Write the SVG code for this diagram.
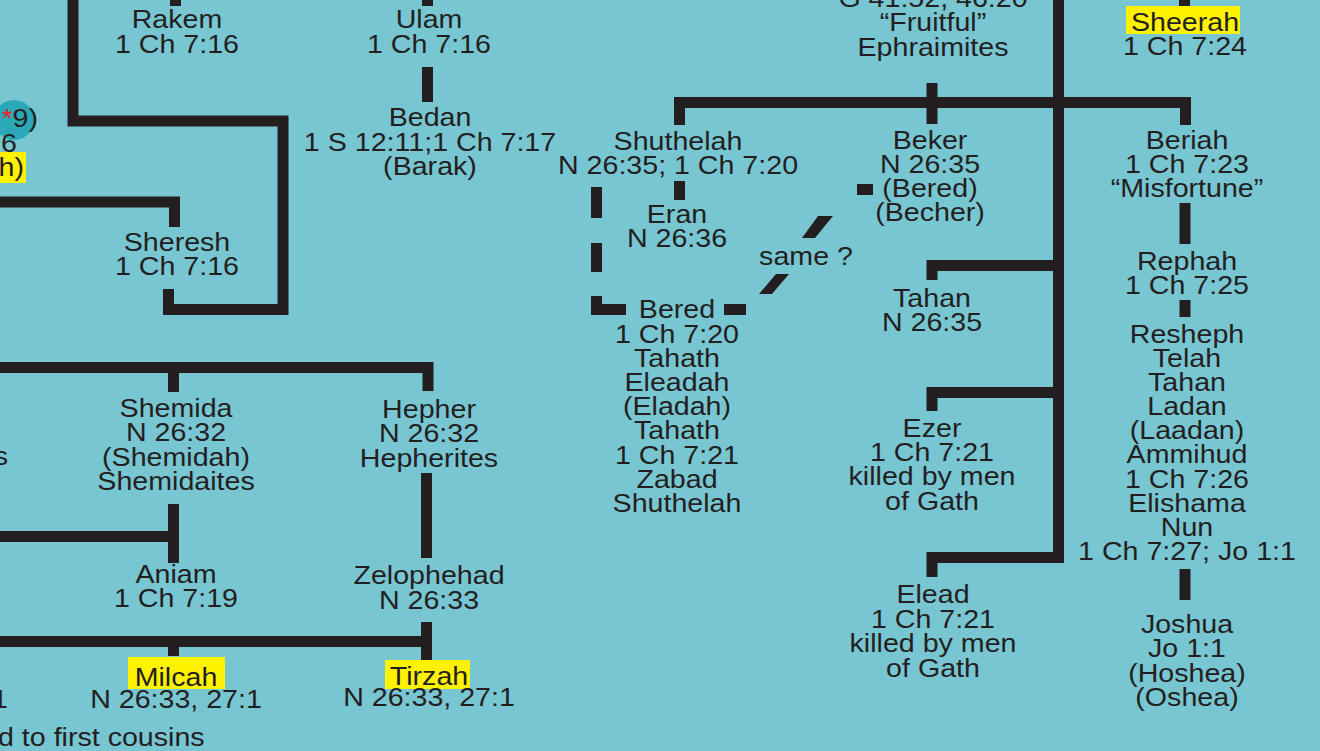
<svg xmlns="http://www.w3.org/2000/svg" width="1320" height="751" viewBox="0 0 1320 751">
<style>
.t{font-family:"Liberation Sans",Arial,Helvetica,sans-serif;font-size:26px;fill:#231F20;text-anchor:middle}
.s{text-anchor:start}
.e{text-anchor:end}
.ln{fill:none;stroke:#231F20;stroke-width:11;stroke-linecap:butt;stroke-linejoin:miter}
.bk{fill:#231F20}
.hl{fill:#FFF200}
</style>
<rect width="1320" height="751" fill="#78C6D2"/>

<g id="connectors">
<path class="ln" d="M73,-6 V121 H283 V309.5 H168.5 V289"/>
<path class="ln" d="M175.5,-6 V6"/>
<path class="ln" d="M427.5,-6 V6"/>
<path class="ln" d="M427.5,67 V102"/>
<path class="ln" d="M-6,202 H174.5 V227"/>
<path class="ln" d="M-6,367.5 H428 V391"/>
<path class="ln" d="M173.5,367.5 V392"/>
<path class="ln" d="M173.5,504 V563"/>
<path class="ln" d="M-6,536.5 H173.5"/>
<path class="ln" d="M426.5,473 V558"/>
<path class="ln" d="M-6,641.5 H426.5"/>
<path class="ln" d="M426.5,622 V662"/>
<path class="ln" d="M173.5,641.5 V656"/>
<path class="ln" d="M679.5,125 V102.5 H1185.5 V125"/>
<path class="ln" d="M932,83 V124"/>
<path class="ln" d="M1058.5,-6 V557.5 H932 V577"/>
<path class="ln" d="M1058.5,392.5 H932 V411"/>
<path class="ln" d="M1058.5,265.5 H932 V280"/>
<path class="ln" d="M679.5,181 V200"/>
<path class="ln" d="M1185,203 V244"/>
<path class="ln" d="M1185,300 V317"/>
<path class="ln" d="M1185,569 V600"/>
<path class="ln" d="M1184.5,-6 V6"/>
<rect class="bk" x="591" y="187" width="11" height="31"/>
<rect class="bk" x="591" y="243" width="11" height="29"/>
<path class="ln" d="M596.5,296 V309.5 H626"/>
<rect class="bk" x="724" y="304" width="22" height="11"/>
<polygon class="bk" points="776,274 789,274 772,294 759,294"/>
<polygon class="bk" points="818,216 833,216 815,238 802,238"/>
<rect class="bk" x="857" y="184" width="16" height="11"/>
</g>

<g id="left-partial">
<circle cx="14" cy="120" r="20" fill="#2BA8B8"/>
<rect class="hl" x="-2" y="152" width="28" height="31"/>
<text class="t e" transform="matrix(1.1 0 0 1 38 0)"><tspan x="0" y="127"><tspan fill="#E8202A">*</tspan>9)</tspan></text>
<text class="t e" transform="matrix(1.1 0 0 1 17 0)"><tspan x="0" y="152">6</tspan></text>
<text class="t e" transform="matrix(1.1 0 0 1 24 0)"><tspan x="0" y="176">h)</tspan></text>
<text class="t e" transform="matrix(1.1 0 0 1 8 0)"><tspan x="0" y="465">s</tspan></text>
<text class="t e" transform="matrix(1.1 0 0 1 8 0)"><tspan x="0" y="708">1</tspan></text>
<text class="t s" transform="matrix(1.1 0 0 1 -2 0)"><tspan x="0" y="746">d to first cousins</tspan></text>
</g>

<g id="rakem"><text class="t" transform="matrix(1.1 0 0 1 177 0)"><tspan x="0" y="28">Rakem</tspan><tspan x="0" y="53">1 Ch 7:16</tspan></text></g>
<g id="ulam"><text class="t" transform="matrix(1.1 0 0 1 429 0)"><tspan x="0" y="28">Ulam</tspan><tspan x="0" y="53">1 Ch 7:16</tspan></text></g>
<g id="bedan"><text class="t" transform="matrix(1.1 0 0 1 430 0)"><tspan x="0" y="126">Bedan</tspan><tspan x="0" y="151">1 S 12:11;1 Ch 7:17</tspan><tspan x="0" y="175">(Barak)</tspan></text></g>
<g id="ephraim"><text class="t" transform="matrix(1.1 0 0 1 933 0)"><tspan x="0" y="7">G 41:52, 46:20</tspan><tspan x="0" y="31">“Fruitful”</tspan><tspan x="0" y="56">Ephraimites</tspan></text></g>
<g id="sheerah"><rect class="hl" x="1126" y="6" width="114" height="28"/><text class="t" transform="matrix(1.1 0 0 1 1185 0)"><tspan x="0" y="31">Sheerah</tspan><tspan x="0" y="55">1 Ch 7:24</tspan></text></g>
<g id="sheresh"><text class="t" transform="matrix(1.1 0 0 1 177 0)"><tspan x="0" y="251">Sheresh</tspan><tspan x="0" y="275">1 Ch 7:16</tspan></text></g>
<g id="shuthelah"><text class="t" transform="matrix(1.1 0 0 1 678 0)"><tspan x="0" y="150">Shuthelah</tspan><tspan x="0" y="174">N 26:35; 1 Ch 7:20</tspan></text></g>
<g id="beker"><text class="t" transform="matrix(1.1 0 0 1 930 0)"><tspan x="0" y="149">Beker</tspan><tspan x="0" y="173">N 26:35</tspan><tspan x="0" y="197">(Bered)</tspan><tspan x="0" y="221">(Becher)</tspan></text></g>
<g id="beriah"><text class="t" transform="matrix(1.1 0 0 1 1187 0)"><tspan x="0" y="149">Beriah</tspan><tspan x="0" y="173">1 Ch 7:23</tspan><tspan x="0" y="197">“Misfortune”</tspan></text></g>
<g id="eran"><text class="t" transform="matrix(1.1 0 0 1 677 0)"><tspan x="0" y="223">Eran</tspan><tspan x="0" y="247">N 26:36</tspan></text></g>
<g id="same"><text class="t" transform="matrix(1.1 0 0 1 806 0)"><tspan x="0" y="265">same ?</tspan></text></g>
<g id="tahan"><text class="t" transform="matrix(1.1 0 0 1 932 0)"><tspan x="0" y="307">Tahan</tspan><tspan x="0" y="331">N 26:35</tspan></text></g>
<g id="rephah"><text class="t" transform="matrix(1.1 0 0 1 1187 0)"><tspan x="0" y="270">Rephah</tspan><tspan x="0" y="294">1 Ch 7:25</tspan></text></g>
<g id="bered"><text class="t" transform="matrix(1.1 0 0 1 677 0)"><tspan x="0" y="318.5">Bered</tspan><tspan x="0" y="342.7">1 Ch 7:20</tspan><tspan x="0" y="366.9">Tahath</tspan><tspan x="0" y="391.1">Eleadah</tspan><tspan x="0" y="415.3">(Eladah)</tspan><tspan x="0" y="439.5">Tahath</tspan><tspan x="0" y="463.7">1 Ch 7:21</tspan><tspan x="0" y="487.9">Zabad</tspan><tspan x="0" y="512.1">Shuthelah</tspan></text></g>
<g id="resheph"><text class="t" transform="matrix(1.1 0 0 1 1187 0)"><tspan x="0" y="343">Resheph</tspan><tspan x="0" y="367.1">Telah</tspan><tspan x="0" y="391.2">Tahan</tspan><tspan x="0" y="415.3">Ladan</tspan><tspan x="0" y="439.4">(Laadan)</tspan><tspan x="0" y="463.5">Ammihud</tspan><tspan x="0" y="487.6">1 Ch 7:26</tspan><tspan x="0" y="511.7">Elishama</tspan><tspan x="0" y="535.8">Nun</tspan><tspan x="0" y="559.9">1 Ch 7:27; Jo 1:1</tspan></text></g>
<g id="ezer"><text class="t" transform="matrix(1.1 0 0 1 932 0)"><tspan x="0" y="437">Ezer</tspan><tspan x="0" y="461">1 Ch 7:21</tspan><tspan x="0" y="485">killed by men</tspan><tspan x="0" y="510">of Gath</tspan></text></g>
<g id="elead"><text class="t" transform="matrix(1.1 0 0 1 933 0)"><tspan x="0" y="603">Elead</tspan><tspan x="0" y="628">1 Ch 7:21</tspan><tspan x="0" y="652">killed by men</tspan><tspan x="0" y="677">of Gath</tspan></text></g>
<g id="joshua"><text class="t" transform="matrix(1.1 0 0 1 1187 0)"><tspan x="0" y="633">Joshua</tspan><tspan x="0" y="657">Jo 1:1</tspan><tspan x="0" y="682">(Hoshea)</tspan><tspan x="0" y="706">(Oshea)</tspan></text></g>
<g id="shemida"><text class="t" transform="matrix(1.1 0 0 1 176 0)"><tspan x="0" y="417">Shemida</tspan><tspan x="0" y="441">N 26:32</tspan><tspan x="0" y="466">(Shemidah)</tspan><tspan x="0" y="490">Shemidaites</tspan></text></g>
<g id="hepher"><text class="t" transform="matrix(1.1 0 0 1 429 0)"><tspan x="0" y="418">Hepher</tspan><tspan x="0" y="442">N 26:32</tspan><tspan x="0" y="467">Hepherites</tspan></text></g>
<g id="aniam"><text class="t" transform="matrix(1.1 0 0 1 176 0)"><tspan x="0" y="583">Aniam</tspan><tspan x="0" y="607">1 Ch 7:19</tspan></text></g>
<g id="zelophehad"><text class="t" transform="matrix(1.1 0 0 1 429 0)"><tspan x="0" y="584">Zelophehad</tspan><tspan x="0" y="609">N 26:33</tspan></text></g>
<g id="milcah"><rect class="hl" x="128" y="657" width="97" height="32"/><text class="t" transform="matrix(1.1 0 0 1 176 0)"><tspan x="0" y="686">Milcah</tspan><tspan x="0" y="708">N 26:33, 27:1</tspan></text></g>
<g id="tirzah"><rect class="hl" x="385" y="660" width="85" height="29"/><text class="t" transform="matrix(1.1 0 0 1 429 0)"><tspan x="0" y="685">Tirzah</tspan><tspan x="0" y="706">N 26:33, 27:1</tspan></text></g>
</svg>
